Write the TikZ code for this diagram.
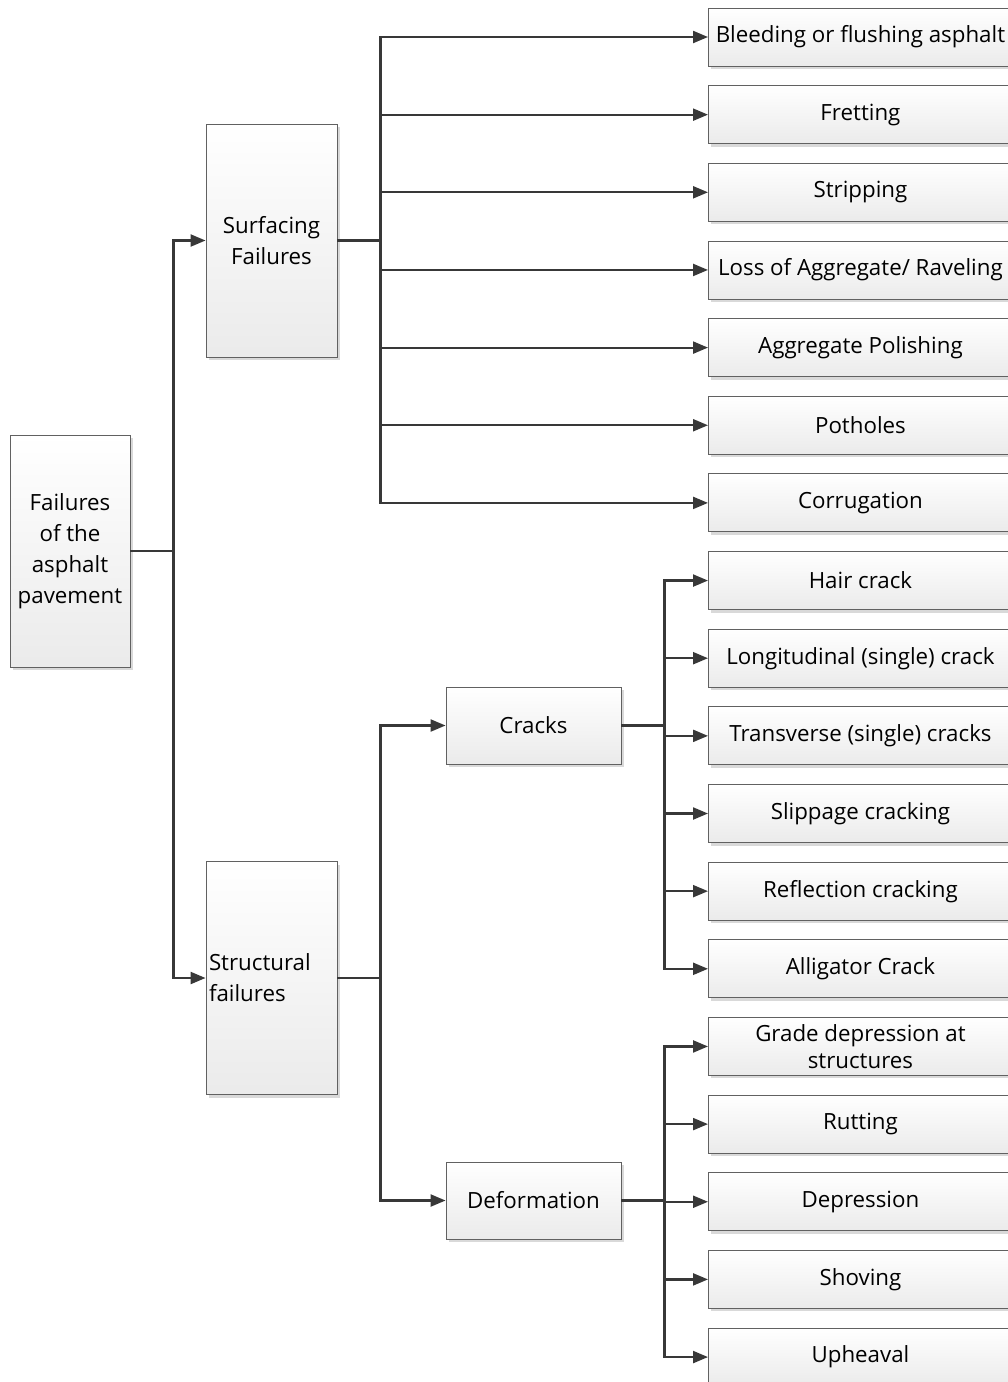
\documentclass[tikz,border=0pt]{standalone}
\usepackage{fontspec}
\setmainfont{Open Sans}
\usetikzlibrary{shadows,arrows.meta}
\begin{document}
\begin{tikzpicture}[x=1pt,y=-1pt,
  box/.style={draw=black!62, line width=0.9pt, top color=white, bottom color=black!8,
    drop shadow={shadow xshift=3pt,shadow yshift=-3pt,fill=black!15,opacity=1},
    font=\fontsize{22.3}{31}\selectfont, text=black, inner sep=2pt},
  leaf/.style={box, minimum width=304pt, minimum height=58pt, anchor=west, align=center},
  mid/.style={box, minimum width=175pt, minimum height=77pt},
  tall/.style={box, minimum width=131pt, minimum height=233pt},
  conn/.style={draw=black!78, line width=2.2pt},
  arr/.style={conn, -{Triangle[length=15pt,width=12pt]}}]
\useasboundingbox (0,0) rectangle (1008,1382);

\node[box, minimum width=120pt, minimum height=232pt, align=center] (root) at (70,551)
  {Failures\\of the\\asphalt\\pavement};
\node[tall, align=center] (sf) at (271.5,240.5) {Surfacing\\Failures};
\node[tall, text width=125pt, align=left] (st) at (271.5,978) {Structural\\failures};
\node[mid] (cr) at (533.5,725.5) {Cracks};
\node[mid] (de) at (533.5,1200.5) {Deformation};

\foreach \i/\t in {0/{Bleeding or flushing asphalt}, 1/{Fretting}, 2/{Stripping},
  3/{Loss of Aggregate/ Raveling}, 4/{Aggregate Polishing}, 5/{Potholes}, 6/{Corrugation},
  7/{Hair crack}, 8/{Longitudinal (single) crack}, 9/{Transverse (single) cracks},
  10/{Slippage cracking}, 11/{Reflection cracking}, 12/{Alligator Crack},
  13/{Grade depression at\\[-4pt]structures}, 14/{Rutting}, 15/{Depression}, 16/{Shoving}, 17/{Upheaval}}
  \node[leaf] (l\i) at (708,{37+77.65*\i}) {\t};

\draw[arr] (root.east) -- ++(43,0) |- (sf.west);
\draw[arr] (root.east) -- ++(43,0) |- (st.west);
\foreach \i in {0,...,6} \draw[arr] (sf.east) -- ++(43,0) |- (l\i.west);
\draw[arr] (st.east) -- ++(43,0) |- (cr.west);
\draw[arr] (st.east) -- ++(43,0) |- (de.west);
\foreach \i in {7,...,12} \draw[arr] (cr.east) -- ++(43,0) |- (l\i.west);
\foreach \i in {13,...,17} \draw[arr] (de.east) -- ++(43,0) |- (l\i.west);
\end{tikzpicture}
\end{document}
